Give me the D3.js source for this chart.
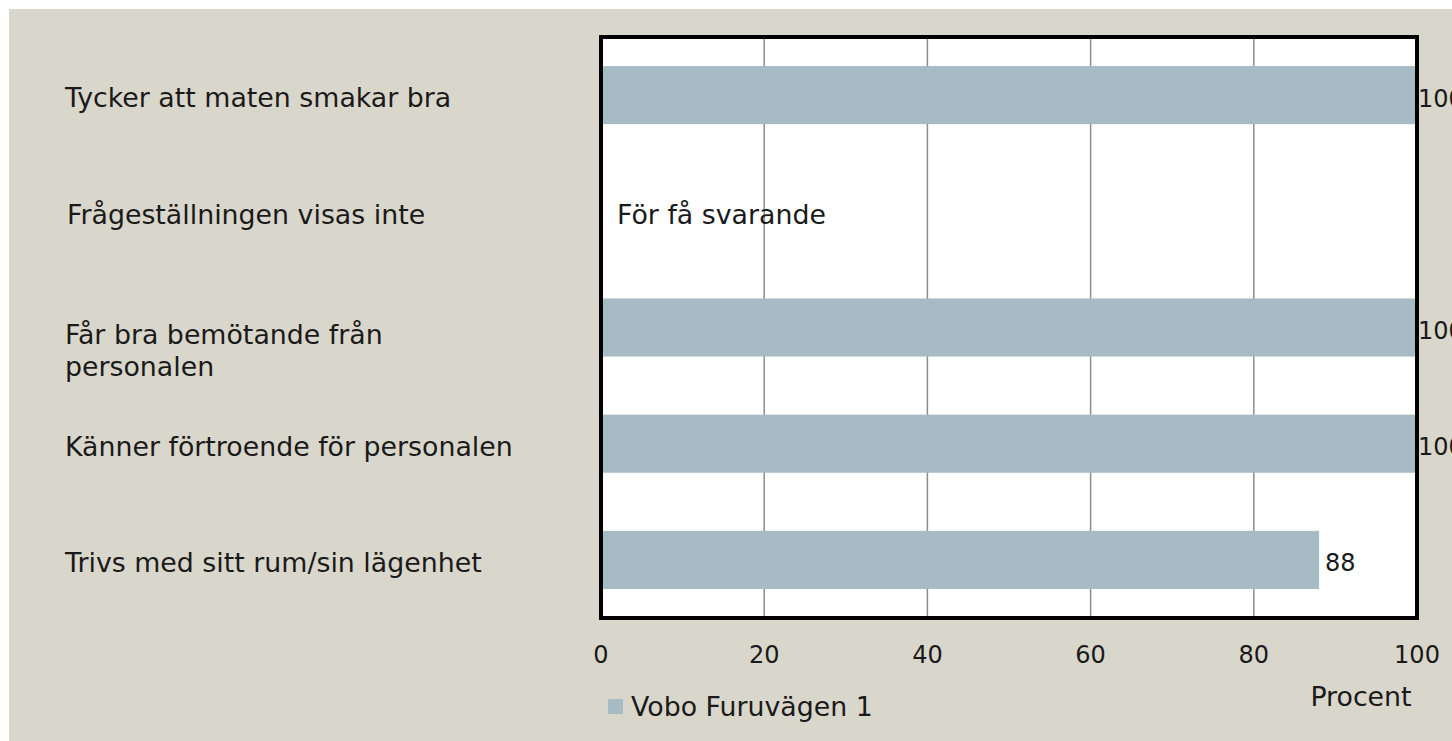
<!DOCTYPE html>
<html>
<head>
<meta charset="utf-8">
<script src="https://cdn.jsdelivr.net/npm/d3@7"></script>
<style>
  body { margin: 0; background: #ffffff; }
  text { font-family: "Century Gothic", "DejaVu Sans", sans-serif; fill: #1a1a1a; }
</style>
</head>
<body>
<script>
// data
var categories = ["Tycker att maten smakar bra", "Frågeställningen visas inte", "Får bra bemötande från personalen", "Känner förtroende för personalen", "Trivs med sitt rum/sin lägenhet"];
var labelLines = [["Tycker att maten smakar bra"], ["Frågeställningen visas inte"], ["Får bra bemötande från", "personalen"], ["Känner förtroende för personalen"], ["Trivs med sitt rum/sin lägenhet"]];
var values = [100, null, 100, 100, 88];
var ticks = [0, 20, 40, 60, 80, 100];
var seriesName = "Vobo Furuvägen 1";
var noDataText = "För få svarande";

var W = 1452, H = 741;
var plot = {left: 601, right: 1417, top: 37, bottom: 618};
var fs = 26.8, fsNum = 24;

var svg = d3.select("body").append("svg")
    .attr("width", W)
    .attr("height", H);

// background panel
svg.append("rect")
    .attr("x", 9).attr("y", 9)
    .attr("width", W - 9).attr("height", H - 9)
    .attr("fill", "#d9d7cb");

var x = d3.scaleLinear().domain([0, 100]).range([plot.left, plot.right]);
var y = d3.scaleBand().domain(categories).range([plot.top, plot.bottom]).paddingInner(0.5).paddingOuter(0.25);

// plot area
svg.append("rect")
    .attr("x", plot.left).attr("y", plot.top)
    .attr("width", plot.right - plot.left).attr("height", plot.bottom - plot.top)
    .attr("fill", "#ffffff");

// gridlines
svg.append("g")
  .selectAll("line")
  .data(ticks.slice(1, -1))
  .join("line")
    .attr("x1", d => x(d)).attr("x2", d => x(d))
    .attr("y1", plot.top).attr("y2", plot.bottom)
    .attr("stroke", "#8c8c8c")
    .attr("stroke-width", 1.5);

// bars
var data = categories.map((c, i) => ({cat: c, v: values[i], lines: labelLines[i]}));
svg.append("g")
  .selectAll("rect")
  .data(data.filter(d => d.v != null))
  .join("rect")
    .attr("x", x(0))
    .attr("y", d => y(d.cat))
    .attr("width", d => x(d.v) - x(0))
    .attr("height", y.bandwidth())
    .attr("fill", "#a7bbc5");

// frame
svg.append("rect")
    .attr("x", plot.left).attr("y", plot.top)
    .attr("width", plot.right - plot.left).attr("height", plot.bottom - plot.top)
    .attr("fill", "none")
    .attr("stroke", "#000")
    .attr("stroke-width", 4);

// value labels
svg.append("g")
  .selectAll("text")
  .data(data.filter(d => d.v != null))
  .join("text")
    .attr("x", d => d.v >= 100 ? x(d.v) + 1 : x(d.v) + 6)
    .attr("y", d => y(d.cat) + y.bandwidth() / 2 + 3)
    .attr("dy", "0.35em")
    .attr("font-size", fsNum)
    .text(d => d.v);

// no data note
data.filter(d => d.v == null).forEach(function(d) {
  svg.append("text")
      .attr("x", x(0) + 16)
      .attr("y", y(d.cat) + y.bandwidth() / 2 + 3)
      .attr("dy", "0.35em")
      .attr("font-size", fs)
      .text(noDataText);
});

// category labels
var lab = svg.append("g")
  .selectAll("text")
  .data(data)
  .join("text")
    .attr("x", (d, i) => i == 1 ? 67 : 65)
    .attr("y", d => y(d.cat) + y.bandwidth() / 2 + (d.lines.length > 1 ? 7 : 3))
    .attr("font-size", fs);
lab.selectAll("tspan")
  .data(d => d.lines)
  .join("tspan")
    .attr("x", function() { return this.parentNode.getAttribute("x"); })
    .attr("dy", (d, i) => i == 0 ? "0.35em" : 32)
    .text(d => d);

// x axis tick labels
svg.append("g")
  .selectAll("text")
  .data(ticks)
  .join("text")
    .attr("x", d => x(d))
    .attr("y", 655)
    .attr("dy", "0.35em")
    .attr("text-anchor", "middle")
    .attr("font-size", fsNum)
    .text(d => d);

// axis title
svg.append("text")
    .attr("x", 1361).attr("y", 697)
    .attr("dy", "0.35em")
    .attr("text-anchor", "middle")
    .attr("font-size", fs)
    .text("Procent");

// legend
svg.append("rect")
    .attr("x", 608).attr("y", 699)
    .attr("width", 15).attr("height", 15)
    .attr("fill", "#a7bbc5");
svg.append("text")
    .attr("x", 631).attr("y", 707)
    .attr("dy", "0.35em")
    .attr("font-size", fs)
    .text(seriesName);
</script>
</body>
</html>
